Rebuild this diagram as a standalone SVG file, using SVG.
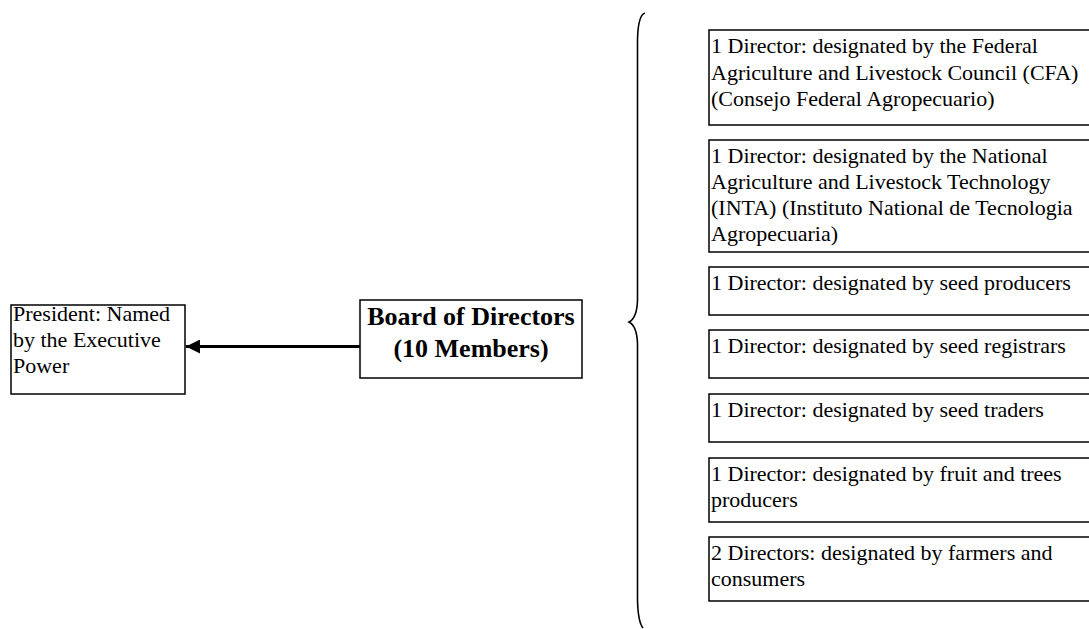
<svg xmlns="http://www.w3.org/2000/svg" width="1089" height="629" viewBox="0 0 1089 629">
<defs>
<style>
.box{fill:#fff;stroke:#000;stroke-width:1.5}
.t{font-family:"Liberation Serif","Times New Roman",serif;font-size:22px;fill:#000}
.b{font-family:"Liberation Serif","Times New Roman",serif;font-size:26px;font-weight:bold;fill:#000;text-anchor:middle}
.conn{fill:none;stroke:#000}
</style>
<marker id="ah" markerWidth="14" markerHeight="14" viewBox="0 0 14 14" refX="14" refY="7" orient="auto" markerUnits="userSpaceOnUse">
<path d="M14,0 L0,7 L14,14 Z" fill="#000" transform="rotate(180 7 7)"/>
</marker>
</defs>
<rect width="1089" height="629" fill="#fff"/>
<g id="president">
<rect class="box" x="11" y="305" width="174" height="89"/>
<text class="t" x="13" y="321">President: Named</text>
<text class="t" x="13" y="347">by the Executive</text>
<text class="t" x="13" y="373">Power</text>
</g>
<g id="board">
<rect class="box" x="360" y="300" width="222" height="78"/>
<text class="b" x="471" y="325">Board of Directors</text>
<text class="b" x="471" y="357">(10 Members)</text>
</g>
<g id="d1">
<rect class="box" x="709" y="30" width="390" height="95"/>
<text class="t" x="711" y="53">1 Director: designated by the Federal</text>
<text class="t" x="711" y="79.5">Agriculture and Livestock Council (CFA)</text>
<text class="t" x="711" y="106">(Consejo Federal Agropecuario)</text>
</g>
<g id="d2">
<rect class="box" x="709" y="140" width="390" height="112"/>
<text class="t" x="711" y="163">1 Director: designated by the National</text>
<text class="t" x="711" y="189">Agriculture and Livestock Technology</text>
<text class="t" x="711" y="215">(INTA) (Instituto National de Tecnologia</text>
<text class="t" x="711" y="241">Agropecuaria)</text>
</g>
<g id="d3">
<rect class="box" x="709" y="267" width="390" height="48"/>
<text class="t" x="711" y="290">1 Director: designated by seed producers</text>
</g>
<g id="d4">
<rect class="box" x="709" y="330" width="390" height="48"/>
<text class="t" x="711" y="353">1 Director: designated by seed registrars</text>
</g>
<g id="d5">
<rect class="box" x="709" y="394" width="390" height="48"/>
<text class="t" x="711" y="417">1 Director: designated by seed traders</text>
</g>
<g id="d6">
<rect class="box" x="709" y="458" width="390" height="64"/>
<text class="t" x="711" y="481">1 Director: designated by fruit and trees</text>
<text class="t" x="711" y="507">producers</text>
</g>
<g id="d7">
<rect class="box" x="709" y="537" width="390" height="64"/>
<text class="t" x="711" y="560">2 Directors: designated by farmers and</text>
<text class="t" x="711" y="586">consumers</text>
</g>
<g id="connectors">
<line class="conn" x1="360" y1="346.5" x2="186" y2="346.5" stroke-width="3" marker-end="url(#ah)"/>
<path class="conn" stroke-width="1.6" d="M645,13 Q638,15 637.5,40 L637.5,300 Q637,318 629,322 Q637,326 637.5,344 L637.5,600 Q638,622 643,628"/>
</g>
</svg>
